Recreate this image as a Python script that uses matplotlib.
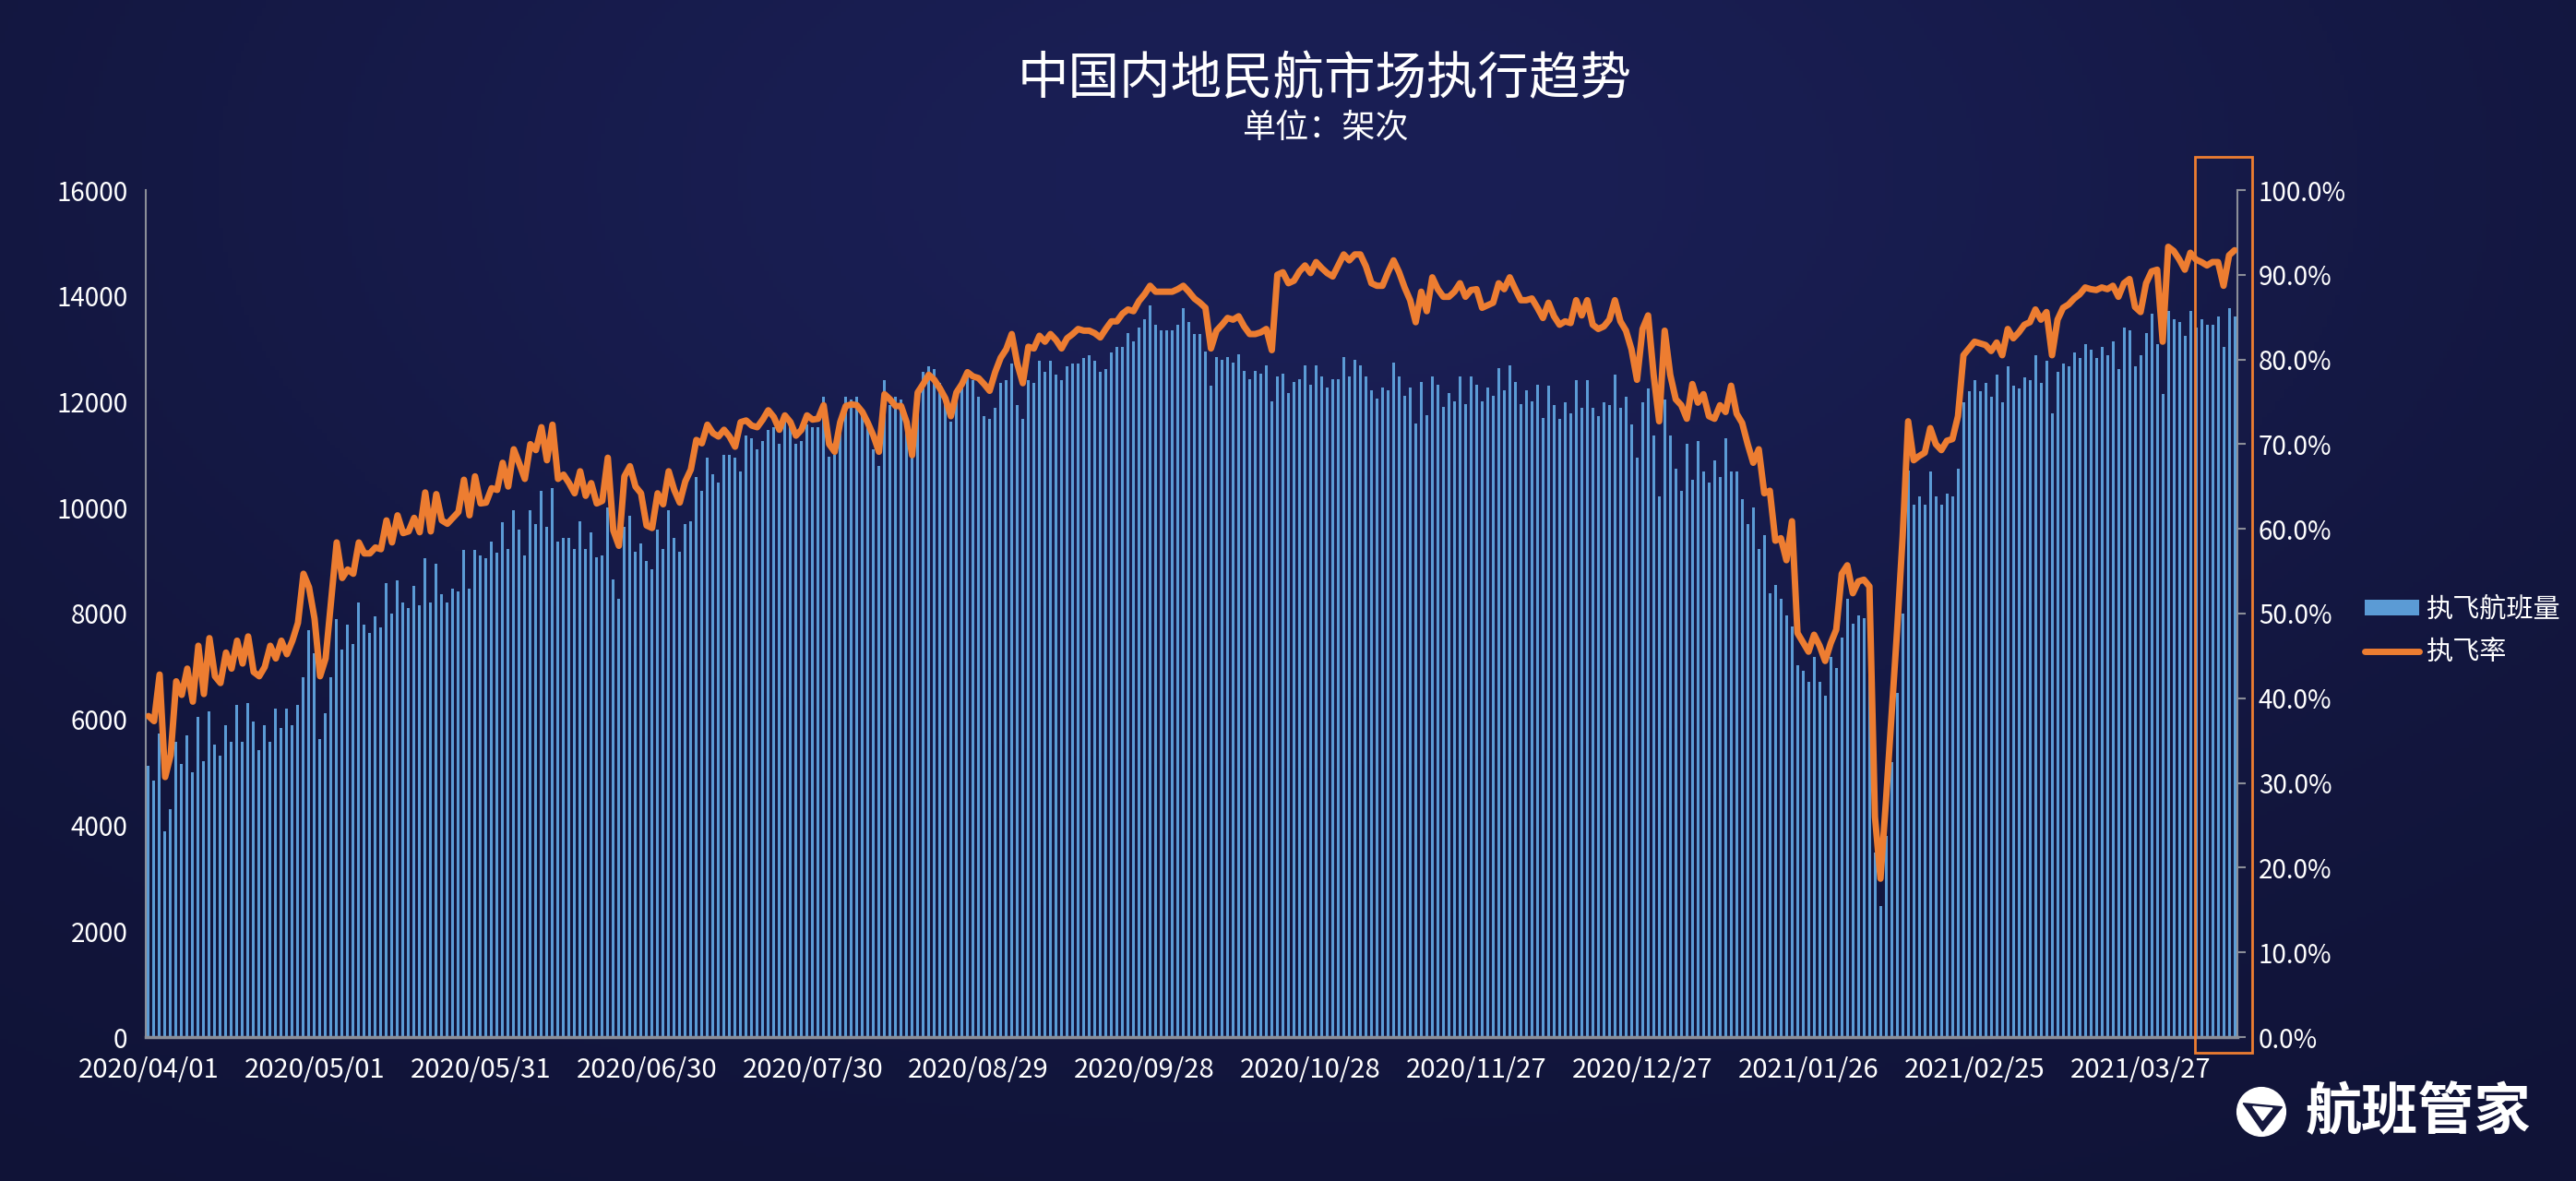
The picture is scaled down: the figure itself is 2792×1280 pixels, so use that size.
import numpy as np
import pandas as pd
import matplotlib
matplotlib.use('Agg')
import matplotlib.pyplot as plt
from matplotlib.patches import Rectangle, Circle, Polygon, Patch
from matplotlib.lines import Line2D

####################################################################################################

start_date = '2020-04-01'
label_step = 30

# daily executed flights (架次)
flights = [
    5116, 4845, 5742, 3890, 4313, 5573, 5158, 5691, 4998, 6046,
    5218, 6156, 5522, 5311, 5894, 5573, 6266, 5573, 6308, 5953,
    5429, 5894, 5573, 6207, 5835, 6207, 5894, 6266, 6791, 7687,
    7247, 5624, 6114, 6791, 7898, 7315, 7788, 7425, 8211, 7788,
    7636, 7949, 7738, 8575, 8000, 8626, 8211, 8101, 8524, 8161,
    9049, 8211, 8939, 8364, 8211, 8473, 8423, 9209, 8473, 9209,
    9099, 9049, 9361, 9150, 9733, 9217, 9956, 9591, 9105, 9956,
    9694, 10320, 9638, 10377, 9367, 9423, 9423, 9217, 9741, 9217,
    9535, 9068, 9105, 10003, 8638, 8273, 9638, 9853, 9161, 9320,
    9002, 8844, 9582, 9217, 9956, 9423, 9161, 9694, 9741, 10582,
    10320, 10947, 10638, 10479, 11003, 11003, 10947, 10685, 11367, 11311,
    11106, 11264, 11470, 11526, 11208, 11676, 11526, 11208, 11264, 11573,
    11526, 11526, 12096, 10965, 11003, 11450, 12095, 12043, 12095, 11729,
    11520, 11101, 10787, 12409, 11938, 12095, 12043, 11624, 10944, 12200,
    12566, 12670, 12618, 12356, 12147, 11624, 12252, 12356, 12461, 12409,
    12095, 11729, 11677, 11886, 12356, 12409, 12722, 11938, 11677, 12409,
    12356, 12775, 12566, 12775, 12513, 12409, 12670, 12722, 12722, 12827,
    12879, 12775, 12566, 12618, 12932, 13036, 13036, 13298, 13141, 13402,
    13559, 13821, 13455, 13350, 13350, 13350, 13455, 13768, 13500, 13277,
    13277, 12953, 12304, 12848, 12796, 12848, 12743, 12900, 12587, 12430,
    12587, 12534, 12691, 12011, 12482, 12534, 12168, 12377, 12430, 12691,
    12325, 12691, 12482, 12273, 12430, 12430, 12848, 12482, 12796, 12691,
    12482, 12220, 12064, 12273, 12220, 12743, 12482, 12116, 12273, 11593,
    12377, 11750, 12482, 12325, 11907, 12168, 12011, 12482, 11959, 12482,
    12325, 12011, 12273, 12116, 12639, 12220, 12691, 12377, 11959, 12220,
    12011, 12325, 11697, 12304, 11938, 11677, 11990, 11781, 12409, 11886,
    12409, 11886, 11729, 11990, 11938, 12513, 11886, 12095, 11572, 10944,
    11990, 12252, 11363, 10212, 12043, 11363, 10735, 10317, 11206, 10526,
    11258, 10683, 10474, 10892, 10578, 11310, 10683, 10683, 10160, 9689,
    10003, 9218, 9480, 8382, 8539, 8277, 7963, 7754, 7022, 6917,
    6708, 7179, 6708, 6447, 7179, 6970, 7545, 8277, 7807, 7963,
    7911, 7702, 3480, 2480, 3800, 5200, 6500, 8000, 10700, 10055,
    10212, 10055, 10683, 10212, 10055, 10264, 10212, 10735, 11990, 12200,
    12409, 12200, 12356, 12095, 12513, 11990, 12670, 12304, 12252, 12461,
    12409, 12879, 12356, 12775, 11781, 12566, 12722, 12670, 12932, 12827,
    13089, 12984, 12827, 13036, 12879, 13141, 12618, 13402, 13350, 12670,
    12879, 13298, 13664, 13089, 12147, 13716, 13559, 13507, 13246, 13716,
    13402, 13559, 13455, 13455, 13612, 13036, 13769, 13612,
]

# daily execution rate (%)
rate = [
    37.9, 37.3, 42.8, 30.7, 33.3, 42.0, 40.4, 43.5, 39.6, 46.2,
    40.5, 47.1, 42.6, 41.8, 45.4, 43.5, 46.8, 44.1, 47.3, 43.1,
    42.6, 43.7, 46.2, 44.7, 46.8, 45.2, 46.8, 48.9, 54.7, 53.1,
    49.4, 42.6, 44.7, 51.5, 58.4, 54.2, 55.2, 54.7, 58.4, 57.1,
    57.1, 57.8, 57.6, 61.0, 58.4, 61.6, 59.5, 59.7, 61.3, 59.6,
    64.3, 59.7, 64.1, 61.0, 60.6, 61.3, 62.0, 65.8, 61.6, 66.2,
    63.0, 63.1, 64.8, 64.6, 67.8, 65.0, 69.4, 67.7, 65.9, 70.0,
    69.3, 72.0, 68.1, 72.3, 65.9, 66.4, 65.4, 64.2, 66.8, 63.9,
    65.4, 63.0, 63.3, 68.4, 59.8, 58.0, 66.2, 67.4, 65.0, 64.2,
    60.4, 60.1, 64.2, 62.9, 66.8, 64.6, 63.1, 65.6, 67.0, 70.5,
    70.1, 72.3, 71.3, 70.9, 71.7, 70.9, 69.7, 72.6, 72.8, 72.2,
    72.0, 72.9, 74.0, 73.2, 71.7, 73.4, 72.6, 71.0, 71.7, 73.4,
    72.9, 73.0, 74.6, 70.0, 69.1, 72.6, 74.5, 74.7, 74.6, 73.8,
    72.5, 71.0, 69.1, 75.9, 75.3, 74.5, 74.5, 72.6, 68.7, 76.1,
    77.1, 78.2, 77.6, 76.6, 75.4, 73.3, 76.1, 77.1, 78.5, 78.0,
    77.8, 77.1, 76.3, 78.5, 80.2, 81.2, 83.0, 79.5, 77.2, 81.5,
    81.3, 82.8, 82.1, 83.0, 82.3, 81.3, 82.5, 83.0, 83.6, 83.4,
    83.4, 83.1, 82.6, 83.6, 84.5, 84.5, 85.4, 85.9, 85.7, 86.9,
    87.7, 88.7, 88.0, 88.0, 88.0, 88.0, 88.3, 88.7, 88.0, 87.2,
    86.7, 86.1, 81.3, 83.4, 84.1, 84.9, 84.7, 85.1, 83.9, 83.0,
    83.0, 83.2, 83.6, 81.1, 90.0, 90.3, 89.0, 89.3, 90.4, 91.1,
    90.2, 91.5, 90.8, 90.2, 89.8, 91.1, 92.4, 91.7, 92.4, 92.4,
    91.0, 89.0, 88.7, 88.7, 90.3, 91.7, 90.3, 88.5, 87.0, 84.4,
    88.0, 85.7, 89.7, 88.3, 87.4, 87.4, 88.0, 89.0, 87.4, 88.2,
    88.3, 86.1, 86.4, 86.7, 89.0, 88.3, 89.7, 88.3, 87.0, 87.0,
    87.2, 86.1, 84.9, 86.7, 85.1, 84.1, 84.5, 84.3, 87.0, 85.2,
    87.0, 84.1, 83.6, 83.9, 84.7, 87.0, 84.5, 83.4, 81.2, 77.6,
    83.6, 85.2, 78.2, 72.7, 83.4, 78.2, 75.3, 74.6, 73.0, 77.1,
    74.9, 75.9, 73.3, 73.0, 74.6, 73.8, 76.9, 73.6, 72.5, 70.0,
    67.8, 69.4, 64.2, 64.5, 58.6, 58.9, 56.3, 60.9, 47.7, 46.6,
    45.5, 47.5, 46.2, 44.4, 46.5, 48.1, 54.7, 55.7, 52.4, 53.8,
    54.0, 53.2, 26.0, 18.7, 28.0, 38.0, 48.0, 59.0, 72.7, 68.1,
    68.6, 69.0, 71.9, 70.0, 69.3, 70.4, 70.6, 73.3, 80.5, 81.3,
    82.1, 81.9, 81.7, 81.0, 82.0, 80.5, 83.6, 82.5, 83.2, 84.1,
    84.4, 85.9, 84.7, 85.6, 80.5, 84.7, 86.1, 86.5, 87.2, 87.7,
    88.5, 88.3, 88.2, 88.5, 88.3, 88.7, 87.4, 89.0, 89.5, 86.2,
    85.6, 89.0, 90.4, 90.6, 82.1, 93.3, 92.8, 91.8, 90.6, 92.6,
    91.8, 91.5, 91.1, 91.5, 91.5, 88.7, 92.3, 92.9,
]

title = '中国内地民航市场执行趋势'
subtitle = '单位：架次'
bar_label = '执飞航班量'
line_label = '执飞率'
brand = '航班管家'

####################################################################################################

plt.rcParams['font.family'] = ['Noto Sans CJK SC', 'DejaVu Sans']

BAR = '#5b9bd5'
LINE = '#ed7d31'
AXIS = '#8b8e98'
TEXT = '#ffffff'

W, H = 2792, 1280
fig = plt.figure(figsize=(W / 100, H / 100), dpi=100)
fig.patch.set_facecolor('#13163d')

# background: dark navy with a soft glow near the top
bg = fig.add_axes([0, 0, 1, 1], zorder=-10)
yy, xx = np.mgrid[0:1:300j, 0:1:600j]
glow = np.exp(-(((xx - 0.5) / 0.5) ** 2 + ((yy - 0.15) / 0.6) ** 2))
c0 = np.array([0x10, 0x13, 0x36]) / 255
c1 = np.array([0x1a, 0x1f, 0x55]) / 255
img = c0 + (c1 - c0) * glow[..., None]
bg.imshow(img, aspect='auto', extent=[0, 1, 0, 1], origin='upper')
bg.axis('off')

dates = pd.date_range(start_date, periods=len(flights)).strftime('%Y/%m/%d')
x = np.arange(len(flights))

ax = fig.add_axes([158 / W, 1 - 1124 / H, (2425 - 158) / W, (1124 - 206) / H])
ax.set_facecolor('none')
ax.bar(x, flights, width=0.5, color=BAR, zorder=2)
ax.set_xlim(-0.5, len(flights) - 0.5)
ax.set_ylim(0, 16000)
ax.set_yticks(range(0, 16001, 2000))
ax.set_xticks(x[::label_step])
ax.set_xticklabels(dates[::label_step])
ax.tick_params(axis='y', length=0, pad=14, labelsize=20, labelcolor=TEXT)
ax.tick_params(axis='x', length=0, pad=15, labelsize=21, labelcolor=TEXT)
for side in ('top', 'right'):
    ax.spines[side].set_visible(False)
ax.spines['left'].set_color(AXIS)
ax.spines['left'].set_linewidth(1.5)
ax.spines['bottom'].set_color(AXIS)
ax.spines['bottom'].set_linewidth(2.5)

ax2 = ax.twinx()
ax2.plot(x, rate, color=LINE, lw=5, solid_joinstyle='round', solid_capstyle='round', zorder=3)
ax2.set_ylim(0, 100)
ax2.set_yticks(range(0, 101, 10))
ax2.yaxis.set_major_formatter(lambda v, p: f'{v:.1f}%')
ax2.tick_params(axis='y', length=6.5, width=1.5, color=AXIS, pad=10, labelsize=20, labelcolor=TEXT)
for side in ('top', 'left', 'bottom'):
    ax2.spines[side].set_visible(False)
ax2.spines['right'].set_color(AXIS)
ax2.spines['right'].set_linewidth(1.5)

# highlight box around the latest week
fig.patches.append(Rectangle((2379 / W, 1 - 1141 / H), 62 / W, 971 / H, transform=fig.transFigure,
                             fill=False, edgecolor=LINE, linewidth=2, zorder=5))

handles = [Patch(facecolor=BAR),
           Line2D([], [], color=LINE, lw=5, solid_capstyle='round')]
fig.legend(handles, [bar_label, line_label], loc='center left',
           bbox_to_anchor=(2537 / W, 1 - 684 / H), frameon=False, fontsize=21,
           labelcolor=TEXT, handlelength=2.0, handleheight=0.5, handletextpad=0.25,
           labelspacing=0.55)

fig.text(1436 / W, 1 - 86 / H, title, ha='center', va='center', fontsize=40, color=TEXT)
fig.text(1436 / W, 1 - 139 / H, subtitle, ha='center', va='center', fontsize=26, color=TEXT)

# brand logo
icon = fig.add_axes([2422 / W, 1 - 1234 / H, 58 / W, 58 / H])
icon.set_xlim(-1.1, 1.1)
icon.set_ylim(-1.1, 1.1)
icon.set_aspect('equal')
icon.axis('off')
icon.add_patch(Circle((0, 0), 1.0, color='white'))
icon.add_patch(Polygon([(-0.75, 0.35), (0.85, 0.2), (0.05, -0.8)], closed=True, color='#15183f'))
icon.add_patch(Polygon([(-0.35, 0.22), (0.45, 0.15), (0.05, -0.35)], closed=True, color='white'))
fig.text(2499 / W, 1 - 1206 / H, brand, ha='left', va='center', fontsize=44,
         fontweight='bold', color=TEXT)

fig.savefig('out.png', dpi=100, facecolor=fig.get_facecolor())
